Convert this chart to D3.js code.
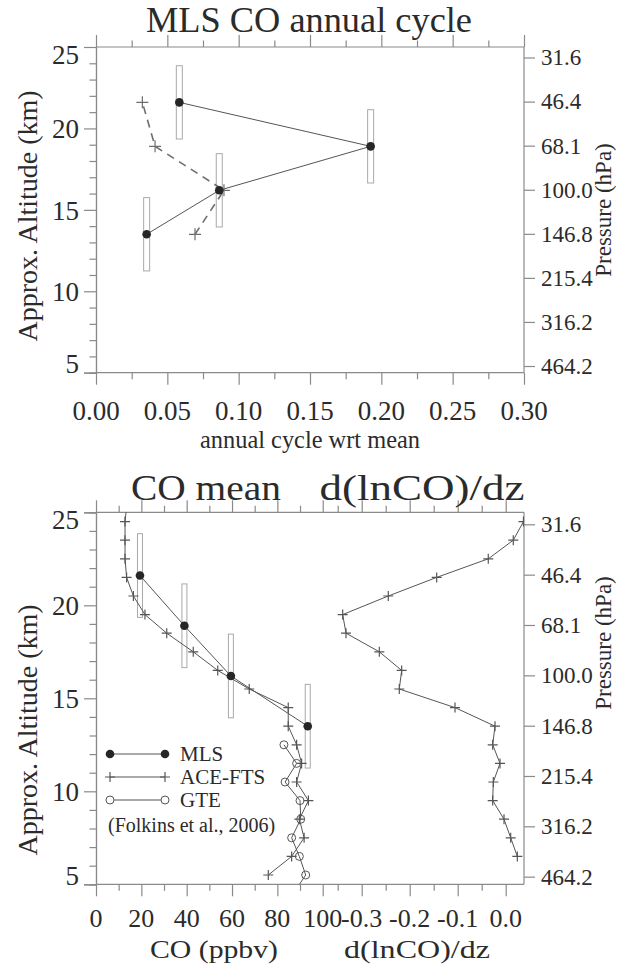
<!DOCTYPE html>
<html><head><meta charset="utf-8">
<script src="https://cdn.jsdelivr.net/npm/d3@7"></script>
<style>
body{margin:0;background:#fff}
svg{display:block}
text{font-family:"Liberation Serif","DejaVu Serif",serif;fill:#2b2b2b}
</style>
</head><body>
<svg id="c" width="617" height="967"></svg>
<script>
// ---------------- data ----------------
const pressureTicks = [31.6, 46.4, 68.1, 100.0, 146.8, 215.4, 316.2, 464.2];
const altMajorTicks = [5, 10, 15, 20, 25];
const altMinorTicks = [6,7,8,9,11,12,13,14,16,17,18,19,21,22,23,24];

// top panel: annual cycle amplitude
const annualTicks = [0.00, 0.05, 0.10, 0.15, 0.20, 0.25, 0.30];
const annualMinorTicks = [0.025, 0.075, 0.125, 0.175, 0.225, 0.275];
const mlsAlt = [13.5, 16.2, 18.9, 21.6];
const mlsAltHalfRes = [2.25, 2.25, 2.25, 2.25];
const mlsAnnual = [0.0355, 0.0864, 0.1925, 0.0584];
const aceAnnual = [0.0694, 0.0897, 0.0414, 0.0325];

// bottom panel: CO mean
const coTicks = [0, 20, 40, 60, 80, 100];
const coMinorTicks = [10, 30, 50, 70, 90];
const mlsMeanCO = [93.4, 59.5, 39.0, 19.4];
const aceAlt = [25.5, 24.5, 23.5, 22.5, 21.5, 20.5, 19.5, 18.5, 17.5, 16.5, 15.5, 14.5, 13.5, 12.5, 11.5, 10.5, 9.5, 8.5, 7.5, 6.5, 5.5];
const aceCO  = [13.7, 12.8, 12.8, 12.8, 13.5, 16.5, 21.6, 31.2, 42.9, 53.7, 67.6, 84.8, 84.8, 88.5, 90.7, 88.5, 93.7, 89.7, 91.8, 86.3, 76.0];
const gteAlt = [12.5, 11.5, 10.5, 9.5, 8.5, 7.5, 6.5, 5.5, 4.5];
const gteCO  = [82.9, 88.5, 83.4, 90.0, 90.3, 86.3, 89.7, 92.5, 87.0];

// bottom panel: d(lnCO)/dz
const dlnTicks = [-0.3, -0.2, -0.1, 0.0];
const dlnMinorTicks = [-0.35, -0.25, -0.15, -0.05];
const dlnAlt = [24.5, 23.5, 22.5, 21.5, 20.5, 19.5, 18.5, 17.5, 16.5, 15.5, 14.5, 13.5, 12.5, 11.5, 10.5, 9.5, 8.5, 7.5, 6.5];
const dlnCO  = [0.037, 0.0158, -0.0363, -0.1438, -0.2446, -0.3396, -0.3327, -0.2633, -0.2167, -0.2217, -0.1056, -0.0223, -0.0271, -0.0119, -0.0258, -0.0271, -0.0035, 0.0104, 0.0242];

const legendLabels = ["MLS", "ACE-FTS", "GTE"];
const legendNote = "(Folkins et al., 2006)";

// ---------------- layout ----------------
const svg = d3.select("#c");
const L = 96, R = 524;
const AX = "#8a8a8a", LINE = "#555", DARK = "#262626", BOX = "#a9a9a9", ACE = "#6e6e6e";
const H = 7.05; // scale height for pressure <-> approx. altitude
const majorLen = 12, minorLen = 6.5;

function pScaleFor(y) {
  const pAt = z => 1000 * Math.exp(-z / H);
  return d3.scaleLog().domain([pAt(5), pAt(25)]).range(y.range());
}

function styleAxis(g) {
  g.attr("font-family", null);
  g.select(".domain").attr("stroke", AX).attr("stroke-width", 1.2);
  g.selectAll(".tick line").attr("stroke", AX).attr("stroke-width", 1.2);
}

function frame(y, xTicks) {
  const [y0, y1] = y.range(); // bottom, top
  const gl = svg.append("g").attr("transform", `translate(${L},0)`)
    .call(d3.axisLeft(y).tickValues(altMajorTicks).tickSize(majorLen).tickPadding(5).tickFormat(d3.format("d")));
  styleAxis(gl);
  gl.selectAll(".tick text").style("font-size", "27px").attr("fill", DARK)
    .attr("dy", d => d === 25 ? "0.6em" : d === 5 ? "0em" : "0.34em");
  const glm = svg.append("g").attr("transform", `translate(${L},0)`)
    .call(d3.axisLeft(y).tickValues(altMinorTicks).tickSize(minorLen).tickFormat(""));
  styleAxis(glm);
  const p = pScaleFor(y);
  const gr = svg.append("g").attr("transform", `translate(${R},0)`)
    .call(d3.axisRight(p).tickValues(pressureTicks).tickSize(11).tickPadding(6).tickFormat(d3.format(".1f")));
  styleAxis(gr);
  gr.select(".domain").attr("d", `M0,${y0}V${y1}`);
  gr.selectAll(".tick text").style("font-size", "23px").attr("fill", DARK);
  xTicks.forEach(([sc, vals, minor]) => {
    [[y0, d3.axisBottom], [y1, d3.axisTop]].forEach(([yy, ax]) => {
      const g1 = svg.append("g").attr("transform", `translate(0,${yy})`)
        .call(ax(sc).tickValues(vals).tickSize(majorLen).tickFormat(""));
      styleAxis(g1);
      g1.select(".domain").remove();
      const g2 = svg.append("g").attr("transform", `translate(0,${yy})`)
        .call(ax(sc).tickValues(minor).tickSize(minorLen).tickFormat(""));
      styleAxis(g2);
      g2.select(".domain").remove();
    });
  });
  svg.append("path").attr("d", `M${L},${y0}H${R}M${L},${y1}H${R}`).attr("stroke", AX).attr("stroke-width", 1.2).attr("fill", "none");
}

function plus(g, cx, cy, s, color) {
  g.append("path").attr("d", `M${cx - s},${cy}H${cx + s}M${cx},${cy - s}V${cy + s}`)
    .attr("stroke", color).attr("stroke-width", 1.2).attr("fill", "none");
}

function label(x, y, size, str, len) {
  const t = svg.append("text").attr("x", x).attr("y", y).attr("text-anchor", "middle")
    .style("font-size", size + "px").text(str);
  if (len) t.attr("textLength", len).attr("lengthAdjust", "spacingAndGlyphs");
  return t;
}

// ================= TOP PANEL =================
const xA = d3.scaleLinear().domain([0, 0.3]).range([L, R]);
const yT = d3.scaleLinear().domain([5, 25]).range([372.7, 47]);
frame(yT, [[xA, annualTicks, annualMinorTicks]]);

svg.append("g").selectAll("text").data(annualTicks).join("text")
  .attr("x", d => xA(d)).attr("y", 420).attr("text-anchor", "middle")
  .style("font-size", "27px").text(d => d3.format(".2f")(d));

label(309, 32, 35, "MLS CO annual cycle", 326);
label(310, 448, 25, "annual cycle wrt mean", 220);
svg.append("text").attr("transform", "translate(37,216) rotate(-90)").attr("text-anchor", "middle")
  .style("font-size", "28px").text("Approx. Altitude (km)");
svg.append("text").attr("transform", "translate(611,210) rotate(-90)").attr("text-anchor", "middle")
  .style("font-size", "23px").text("Pressure (hPa)");

const topG = svg.append("g");
topG.selectAll("rect.eb").data(mlsAlt).join("rect").attr("class", "eb")
  .attr("x", (d, i) => xA(mlsAnnual[i]) - 3).attr("width", 6)
  .attr("y", (d, i) => yT(d + mlsAltHalfRes[i])).attr("height", (d, i) => yT(d - mlsAltHalfRes[i]) - yT(d + mlsAltHalfRes[i]))
  .attr("fill", "none").attr("stroke", BOX).attr("stroke-width", 1);
topG.append("path").datum(mlsAlt)
  .attr("d", d3.line().x((d, i) => xA(aceAnnual[i])).y(d => yT(d)))
  .attr("fill", "none").attr("stroke", ACE).attr("stroke-width", 1.6).attr("stroke-dasharray", "8,6");
mlsAlt.forEach((d, i) => plus(topG, xA(aceAnnual[i]), yT(d), 6, ACE));
topG.append("path").datum(mlsAlt)
  .attr("d", d3.line().x((d, i) => xA(mlsAnnual[i])).y(d => yT(d)))
  .attr("fill", "none").attr("stroke", LINE).attr("stroke-width", 1);
topG.selectAll("circle").data(mlsAlt).join("circle")
  .attr("cx", (d, i) => xA(mlsAnnual[i])).attr("cy", d => yT(d)).attr("r", 4.3).attr("fill", DARK);

// ================= BOTTOM PANEL =================
const xC = d3.scaleLinear().domain([0, 100]).range([L, 322.7]);
const xD = d3.scaleLinear().domain([-0.3, 0.0]).range([361.7, 505.7]);
const yB = d3.scaleLinear().domain([5, 25]).range([884.3, 512.3]);
frame(yB, [[xC, coTicks, coMinorTicks], [xD, dlnTicks, dlnMinorTicks]]);

svg.append("g").selectAll("text").data(coTicks).join("text")
  .attr("x", d => xC(d)).attr("y", 927).attr("text-anchor", "middle")
  .style("font-size", "26px").text(d => d);
svg.append("g").selectAll("text").data(dlnTicks).join("text")
  .attr("x", d => xD(d)).attr("y", 927).attr("text-anchor", "middle")
  .style("font-size", "26px").text(d => d3.format(".1f")(d).replace("\u2212", "-"));

label(206, 500, 36, "CO mean", 150);
label(422, 500, 36, "d(lnCO)/dz", 205);
label(214, 958, 26, "CO (ppbv)", 128);
label(417, 958, 26, "d(lnCO)/dz", 146);
svg.append("text").attr("transform", "translate(37,730) rotate(-90)").attr("text-anchor", "middle")
  .style("font-size", "28px").text("Approx. Altitude (km)");
svg.append("text").attr("transform", "translate(611,643) rotate(-90)").attr("text-anchor", "middle")
  .style("font-size", "23px").text("Pressure (hPa)");

svg.append("clipPath").attr("id", "clipB").append("rect")
  .attr("x", L).attr("y", yB(25)).attr("width", R - L).attr("height", yB(5) - yB(25));
const bot = svg.append("g").attr("clip-path", "url(#clipB)");

bot.selectAll("rect.eb").data(mlsAlt).join("rect").attr("class", "eb")
  .attr("x", (d, i) => xC(mlsMeanCO[i]) - 2.5).attr("width", 5)
  .attr("y", (d, i) => yB(d + mlsAltHalfRes[i])).attr("height", (d, i) => yB(d - mlsAltHalfRes[i]) - yB(d + mlsAltHalfRes[i]))
  .attr("fill", "none").attr("stroke", BOX).attr("stroke-width", 1);
bot.append("path").datum(aceAlt)
  .attr("d", d3.line().x((d, i) => xC(aceCO[i])).y(d => yB(d)))
  .attr("fill", "none").attr("stroke", LINE).attr("stroke-width", 1);
aceAlt.forEach((d, i) => plus(bot, xC(aceCO[i]), yB(d), 5, LINE));
bot.append("path").datum(gteAlt)
  .attr("d", d3.line().x((d, i) => xC(gteCO[i])).y(d => yB(d)))
  .attr("fill", "none").attr("stroke", LINE).attr("stroke-width", 1);
bot.selectAll("circle.gte").data(gteAlt).join("circle").attr("class", "gte")
  .attr("cx", (d, i) => xC(gteCO[i])).attr("cy", d => yB(d)).attr("r", 4)
  .attr("fill", "none").attr("stroke", LINE).attr("stroke-width", 1);
bot.append("path").datum(mlsAlt)
  .attr("d", d3.line().x((d, i) => xC(mlsMeanCO[i])).y(d => yB(d)))
  .attr("fill", "none").attr("stroke", LINE).attr("stroke-width", 1);
bot.selectAll("circle.mls").data(mlsAlt).join("circle").attr("class", "mls")
  .attr("cx", (d, i) => xC(mlsMeanCO[i])).attr("cy", d => yB(d)).attr("r", 4.3).attr("fill", DARK);
bot.append("path").datum(dlnAlt)
  .attr("d", d3.line().x((d, i) => xD(dlnCO[i])).y(d => yB(d)))
  .attr("fill", "none").attr("stroke", LINE).attr("stroke-width", 1);
dlnAlt.forEach((d, i) => plus(bot, xD(dlnCO[i]), yB(d), 5, LINE));

const lg = svg.append("g");
legendLabels.forEach((lab, i) => {
  const ly = 754 + i * 23;
  lg.append("line").attr("x1", 110).attr("x2", 165).attr("y1", ly).attr("y2", ly).attr("stroke", LINE).attr("stroke-width", 1);
  [110, 165].forEach(x => {
    if (i === 0) lg.append("circle").attr("cx", x).attr("cy", ly).attr("r", 4.3).attr("fill", DARK);
    else if (i === 1) plus(lg, x, ly, 5, LINE);
    else lg.append("circle").attr("cx", x).attr("cy", ly).attr("r", 4).attr("fill", "#fff").attr("stroke", LINE);
  });
  lg.append("text").attr("x", 180).attr("y", ly + 7).style("font-size", "21px").text(lab);
});
lg.append("text").attr("x", 108).attr("y", 832).style("font-size", "20px").text(legendNote);
</script>
</body></html>
